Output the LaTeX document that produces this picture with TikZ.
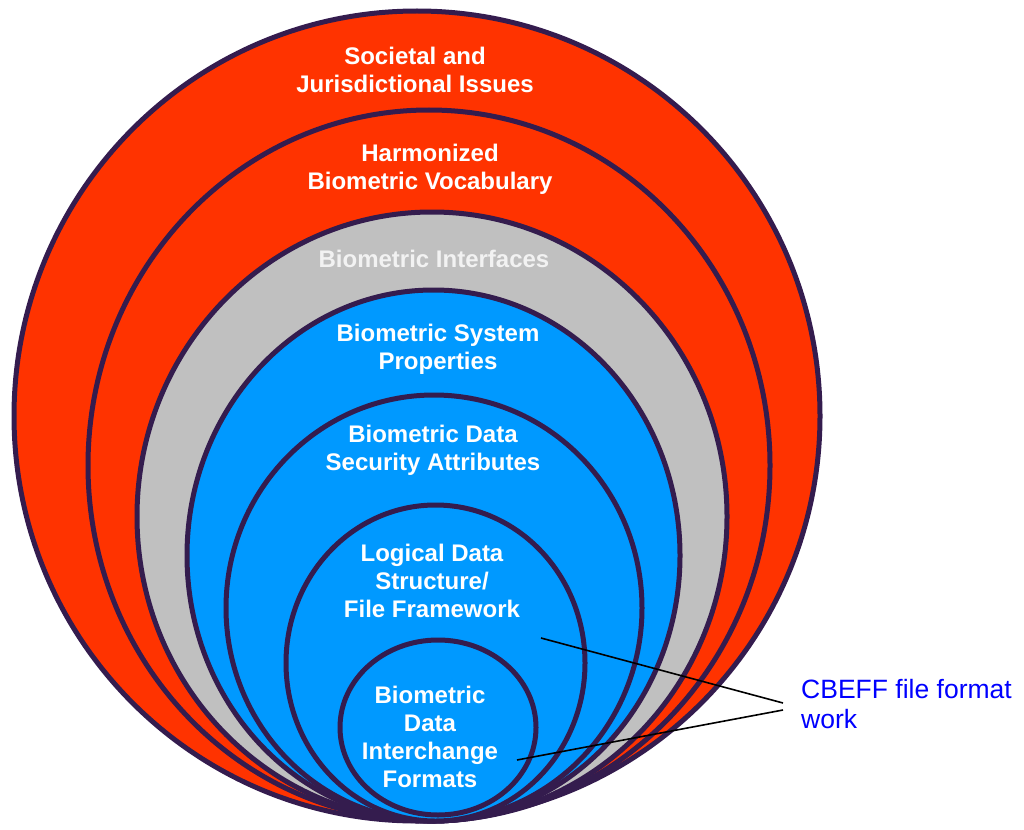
\documentclass[tikz,border=0pt]{standalone}
\usepackage{fontspec}
\setmainfont{Liberation Sans}
\definecolor{ringred}{RGB}{255,51,0}
\definecolor{ringgray}{RGB}{192,192,192}
\definecolor{ringblue}{RGB}{0,153,255}
\definecolor{ringedge}{RGB}{52,28,78}
\definecolor{notecol}{RGB}{0,0,255}
\definecolor{softwhite}{RGB}{242,242,242}
\begin{document}
\begin{tikzpicture}[x=1pt,y=-1pt,
  ring/.style={draw=ringedge,line width=5pt},
  lbl/.style={font=\bfseries\fontsize{24}{28}\selectfont,text=white,align=center,inner sep=0pt},
  note/.style={font=\fontsize{26.5}{30}\selectfont,text=notecol,align=left,inner sep=0pt,anchor=west},
  leader/.style={draw=black,line width=1.6pt}]
\useasboundingbox (0,0) rectangle (1024,829);
% nested layers, all touching at the bottom
\path[ring,fill=ringred]  (417,416)   ellipse [x radius=403pt,y radius=405pt];
\path[ring,fill=ringred]  (429,465.5) ellipse [x radius=341pt,y radius=355.5pt];
\path[ring,fill=ringgray] (432,516.5) ellipse [x radius=295pt,y radius=304.5pt];
\path[ring,fill=ringblue] (433.5,555.5) ellipse [x radius=246.5pt,y radius=265.5pt];
\path[ring,fill=ringblue] (434,608)   ellipse [x radius=208pt,y radius=213pt];
\path[ring,fill=ringblue] (435.5,663) ellipse [x radius=149.5pt,y radius=158pt];
\path[ring,fill=ringblue] (438,727.5) ellipse [x radius=98pt,y radius=87.5pt];
% layer titles
\node[lbl] (societal) at (415,69.5) {Societal and\\Jurisdictional Issues};
\node[lbl] (vocab) at (430,169) {Harmonized\\Biometric Vocabulary};
\node[lbl,text=softwhite] (iface) at (434,258.5) {Biometric Interfaces};
\node[lbl] (sysprop) at (438,349) {Biometric System\\Properties};
\node[lbl] (secattr) at (433,450) {Biometric Data\\Security Attributes};
\node[lbl] (logical) at (432,580.5) {Logical Data\\Structure/\\File Framework};
\begin{scope}
  \clip (330,640) rectangle (550,787.5);
  \node[lbl] (formats) at (430,737) {Biometric\\Data\\Interchange\\Formats};
\end{scope}
% callout
\node[note] (cbeff) at (801,704) {CBEFF file format\\work};
\coordinate (inFile) at (541,638);
\coordinate (inFmt) at (517,760);
\coordinate (tipA) at (783,703);
\coordinate (tipB) at (783,710);
\draw[leader] (inFile) -- (tipA);
\draw[leader] (inFmt) -- (tipB);
\end{tikzpicture}
\end{document}
